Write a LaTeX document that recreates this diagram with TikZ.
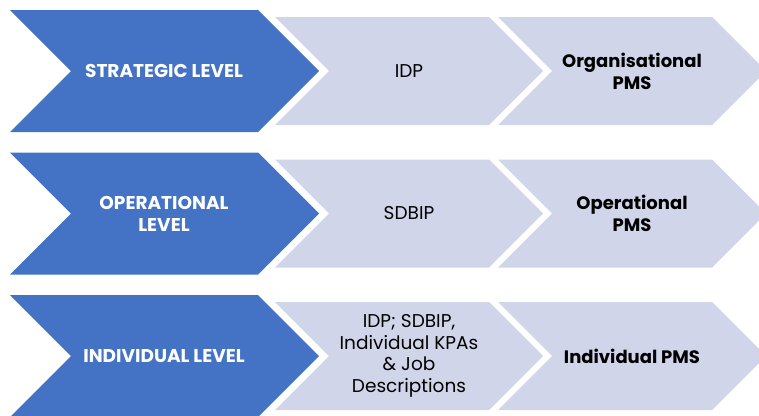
\documentclass[tikz,border=0pt]{standalone}
\usepackage{fontspec}
\setmainfont{Poppins}
\definecolor{levelblue}{HTML}{4472C4}
\definecolor{itemgrey}{HTML}{D0D5E9}
\begin{document}
\begin{tikzpicture}[x=1pt,y=-1pt,
  levelbox/.style={fill=levelblue},
  itembox/.style={fill=itemgrey},
  leveltext/.style={text=white,font=\fontsize{18.5}{22}\selectfont\bfseries,align=center,inner sep=0pt},
  itemtext/.style={text=black,font=\fontsize{18.5}{21.5}\selectfont,align=center,inner sep=0pt},
  pmstext/.style={text=black,font=\fontsize{18}{22}\selectfont\bfseries,align=center,inner sep=0pt}]
\useasboundingbox (0,0) rectangle (759,415);
\clip (0,0) rectangle (759,415);
% chevron: left x, centre y, x of top-right corner, half height
\newcommand\chevshape[5]{%
  \path[#1] (#2,#3-#5) -- (#4,#3-#5) -- (#4+#5,#3) -- (#4,#3+#5)
    -- (#2,#3+#5) -- (#2+#5,#3) -- cycle;}
\foreach \c/\r in {71/1,213.5/2,356/3}{
  \chevshape{itembox}{498}{\c}{712}{54}
  \chevshape{itembox}{275}{\c}{489}{54}
  \chevshape{levelbox}{10}{\c}{258}{61}
}
\node[leveltext] (lvl1) at (164,71) {STRATEGIC LEVEL};
\node[itemtext]  (src1) at (409,71) {IDP};
\node[pmstext]   (pms1) at (632,71) {Organisational\\PMS};
\node[leveltext] (lvl2) at (164,213.5) {OPERATIONAL\\LEVEL};
\node[itemtext]  (src2) at (409,213.5) {SDBIP};
\node[pmstext]   (pms2) at (632,213.5) {Operational\\PMS};
\node[leveltext] (lvl3) at (164,356) {INDIVIDUAL LEVEL};
\node[itemtext]  (src3) at (409,356) {IDP; SDBIP,\\Individual KPAs\\\& Job\\Descriptions};
\node[pmstext]   (pms3) at (632,356) {Individual PMS};
\end{tikzpicture}
\end{document}
